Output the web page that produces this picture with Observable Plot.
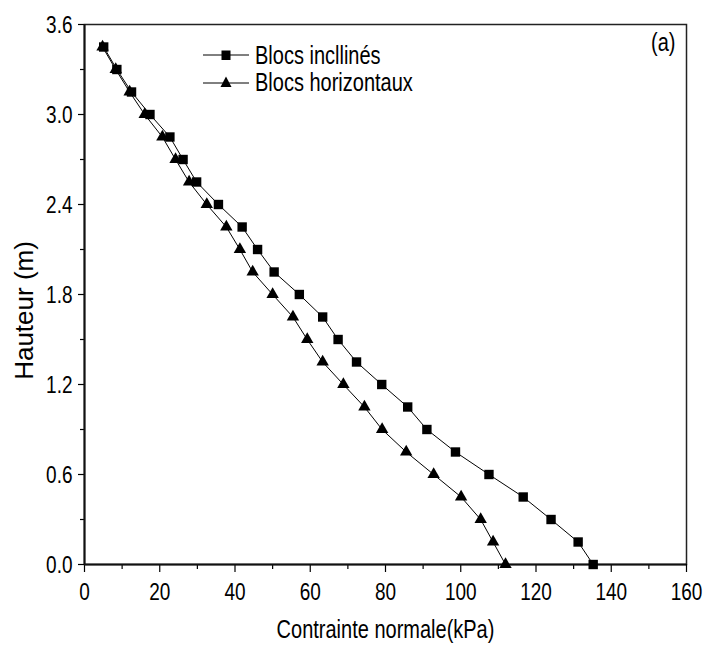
<!DOCTYPE html>
<html>
<head>
<meta charset="utf-8">
<script src="https://cdn.jsdelivr.net/npm/d3@7"></script>
<script src="https://cdn.jsdelivr.net/npm/@observablehq/plot@0.6"></script>
<style>
  html, body { margin: 0; padding: 0; background: #fff; }
  #wrap { position: relative; width: 704px; height: 648px; }
  .lib { font-family: "Liberation Sans", Arial, sans-serif; }
  .leg { position: absolute; left: 201px; top: 41.5px; font-size: 20px; color: #000; }
  .leg .row { display: flex; align-items: center; height: 27px; }
  .leg svg { margin-right: 4px; }
  .leg span, .tag span { display: inline-block; transform: scaleY(1.3); transform-origin: center; line-height: 27px; }
  .tag { position: absolute; left: 651px; top: 28.5px; font-size: 20px; line-height: 27px; color: #000; }
</style>
</head>
<body>
<div id="wrap"></div>
<script>
// Heights (m)
const hauteur = [0.00, 0.15, 0.30, 0.45, 0.60, 0.75, 0.90, 1.05, 1.20, 1.35, 1.50, 1.65,
                 1.80, 1.95, 2.10, 2.25, 2.40, 2.55, 2.70, 2.85, 3.00, 3.15, 3.30, 3.45];
// Contrainte normale (kPa) — Blocs inclinés
const inclines = [135.2, 131.2, 124.0, 116.6, 107.5, 98.6, 91.0, 85.9, 79.0, 72.3, 67.4, 63.3,
                  57.1, 50.4, 46.0, 41.9, 35.6, 29.8, 26.2, 22.7, 17.4, 12.5, 8.6, 5.1];
// Contrainte normale (kPa) — Blocs horizontaux
const horizontaux = [111.9, 108.6, 105.3, 100.1, 92.8, 85.5, 79.1, 74.4, 68.8, 63.3, 59.2, 55.4,
                     50.0, 44.7, 41.3, 37.7, 32.5, 27.8, 24.2, 20.7, 16.0, 12.0, 8.3, 4.8];
const seriesNames = ["Blocs incllinés", "Blocs horizontaux"];
const xTicks = [0, 20, 40, 60, 80, 100, 120, 140, 160];
const xMinor = [10, 30, 50, 70, 90, 110, 130, 150];
const yTicks = [0.0, 0.6, 1.2, 1.8, 2.4, 3.0, 3.6];
const yMinor = [0.3, 0.9, 1.5, 2.1, 2.7, 3.3];
const xLabel = "Contrainte normale(kPa)";
const yLabel = "Hauteur (m)";
const panelTag = "(a)";

const dataInc = hauteur.map((h, i) => ({h, x: inclines[i]}));
const dataHor = hauteur.map((h, i) => ({h, x: horizontaux[i]}));

const font = '"Liberation Sans", Arial, sans-serif';

const chart = Plot.plot({
  width: 704,
  height: 648,
  marginLeft: 84,
  marginRight: 18,
  marginTop: 24,
  marginBottom: 84,
  style: {fontFamily: font, fontSize: "19px", color: "#000", background: "#fff"},
  x: {domain: [0, 160]},
  y: {domain: [0, 3.6]},
  marks: [
    Plot.frame({stroke: "#222", strokeWidth: 1.5}),
    Plot.axisX({ticks: xMinor, tickSize: 5, text: null, strokeWidth: 1.2, label: null}),
    Plot.axisX({ticks: xTicks, tickSize: 8, tickPadding: 12, tickFormat: d => String(d), strokeWidth: 1.2, label: null}),
    Plot.axisY({ticks: yMinor, tickSize: 4, text: null, strokeWidth: 1.2, label: null}),
    Plot.axisY({ticks: yTicks, tickSize: 6, tickPadding: 6, tickFormat: d3.format(".1f"), strokeWidth: 1.2, label: null}),
    Plot.ruleY([0], {stroke: "#111", strokeWidth: 2}),
    Plot.ruleX([0], {stroke: "#111", strokeWidth: 2}),
    Plot.text([xLabel], {frameAnchor: "bottom", dy: 71, fontSize: 20, fill: "#000"}),
    Plot.text([yLabel], {frameAnchor: "left", textAnchor: "middle", dx: -60, dy: 16, rotate: -90, fontSize: 26, fill: "#000"}),
    Plot.line(dataHor, {x: "x", y: "h", stroke: "#000", strokeWidth: 1}),
    Plot.line(dataInc, {x: "x", y: "h", stroke: "#000", strokeWidth: 1}),
    Plot.dot(dataInc, {x: "x", y: "h", symbol: "square", r: 5.3, fill: "#000", stroke: "none"}),
    Plot.dot(dataHor, {x: "x", y: "h", symbol: "triangle", r: 4.6, fill: "#000", stroke: "none"})
  ]
});

const wrap = document.getElementById("wrap");
wrap.appendChild(chart);

// Tall, narrow look of the reference's horizontal texts: stretch them vertically about their centre
const k = 1.3;
chart.querySelectorAll("text").forEach(t => {
  if (t.textContent === yLabel) return;
  const bb = t.getBBox();
  const cy = bb.y + bb.height / 2;
  const prior = t.getAttribute("transform") || "";
  t.setAttribute("transform", `${prior} translate(0 ${cy}) scale(1 ${k}) translate(0 ${-cy})`);
});

// Legend overlay
const leg = document.createElement("div");
leg.className = "leg lib";
const sq = '<svg width="50" height="20"><line x1="2" y1="10" x2="48" y2="10" stroke="#000" stroke-width="1"/><rect x="20.5" y="5.5" width="9" height="9.5" fill="#000"/></svg>';
const tr = '<svg width="50" height="20"><line x1="2" y1="11" x2="48" y2="11" stroke="#000" stroke-width="1"/><path d="M25,4.5 L30.5,15 L19.5,15 Z" fill="#000"/></svg>';
leg.innerHTML = `<div class="row">${sq}<span>${seriesNames[0]}</span></div>` +
                `<div class="row">${tr}<span>${seriesNames[1]}</span></div>`;
wrap.appendChild(leg);

const tag = document.createElement("div");
tag.className = "tag lib";
tag.innerHTML = `<span>${panelTag}</span>`;
wrap.appendChild(tag);
</script>
</body>
</html>
